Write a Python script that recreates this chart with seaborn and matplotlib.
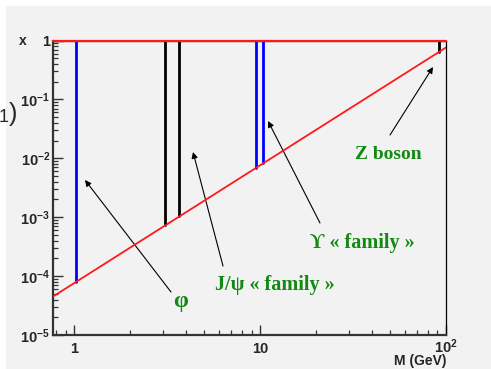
import matplotlib
matplotlib.use("Agg")
import matplotlib.pyplot as plt
from matplotlib.patches import Rectangle
from matplotlib.ticker import FixedLocator, FixedFormatter, LogLocator, NullFormatter
import pandas as pd
import seaborn as sns

# Kinematic limit x = M^2/s (fixed target, 7 TeV beam), at the ends of the mass range
limit_mass = [0.77, 100.0]
limit_x = [4.5e-5, 0.76]
top_x = [1.0, 1.0]

# Resonances: mass in GeV and lowest reachable x
state_names = ["phi", "J/psi", "psi(2S)", "Upsilon(1S)", "Upsilon(3S)", "Z"]
state_mass = [1.019, 3.097, 3.686, 9.46, 10.36, 91.19]
state_xmin = [7.9e-5, 7.3e-4, 1.04e-3, 6.8e-3, 8.2e-3, 0.63]
state_colour = ["#0000ff", "#000000", "#000000", "#0000ff", "#0000ff", "#000000"]

x_ticks = [1, 10, 100]
x_tick_labels = ["1", "10", r"10$^{2}$"]
y_ticks = [1e-5, 1e-4, 1e-3, 1e-2, 1e-1, 1]
y_tick_labels = [r"10$^{-5}$", r"10$^{-4}$", r"10$^{-3}$", r"10$^{-2}$", r"10$^{-1}$", "1"]

sns.set_style("ticks")
plt.rcParams["font.family"] = ["Liberation Sans", "DejaVu Sans"]
plt.rcParams["mathtext.fontset"] = "custom"
plt.rcParams["mathtext.rm"] = "Liberation Sans:bold"
plt.rcParams["mathtext.bf"] = "Liberation Sans:bold"
plt.rcParams["mathtext.it"] = "Liberation Sans:bold"
plt.rcParams["mathtext.default"] = "bf"

W, H = 491, 369
BG = "#f2f2f2"
GREEN = "#128a12"


def px(x, y):
    return (x / W, 1 - y / H)


fig = plt.figure(figsize=(W / 100, H / 100), dpi=100, facecolor="white")
fig.patches.append(Rectangle((6 / W, 0), 1, (H - 6) / H, transform=fig.transFigure,
                             facecolor=BG, edgecolor="none", zorder=-10))

ax = fig.add_axes([53 / W, 34 / H, 393 / W, 294.5 / H])
ax.set_facecolor(BG)

# vertical segments for each resonance
rows = []
for n, m, lo in zip(state_names, state_mass, state_xmin):
    rows.append({"state": n, "mass": m, "x": lo})
    rows.append({"state": n, "mass": m, "x": 1.0})
df = pd.DataFrame(rows)
sns.lineplot(data=df, x="mass", y="x", hue="state", units="state", estimator=None,
             palette=dict(zip(state_names, state_colour)), legend=False, sort=False,
             lw=2.0, ax=ax, zorder=3)

# kinematic boundaries
sns.lineplot(x=limit_mass, y=limit_x, color="#ff1a1a", lw=1.3, ax=ax, zorder=4)
sns.lineplot(x=limit_mass, y=top_x, color="#ff1a1a", lw=1.6, ax=ax, zorder=4, clip_on=False)

ax.set_xscale("log")
ax.set_yscale("log")
ax.set_xlim(0.77, 100)
ax.set_ylim(1e-5, 1)

ax.xaxis.set_major_locator(FixedLocator(x_ticks))
ax.xaxis.set_major_formatter(FixedFormatter(x_tick_labels))
ax.xaxis.set_minor_locator(LogLocator(base=10, subs=range(2, 10)))
ax.xaxis.set_minor_formatter(NullFormatter())
ax.yaxis.set_major_locator(FixedLocator(y_ticks))
ax.yaxis.set_major_formatter(FixedFormatter(y_tick_labels))
ax.yaxis.set_minor_locator(LogLocator(base=10, subs=range(2, 10)))
ax.yaxis.set_minor_formatter(NullFormatter())

ax.tick_params(which="both", direction="in", color="#333333", top=False, right=False)
ax.tick_params(which="major", length=7, width=1.0)
ax.tick_params(which="minor", length=3.8, width=0.9)
ax.tick_params(axis="x", which="major", pad=13, labelsize=10.5)
ax.tick_params(axis="y", which="major", pad=2, labelsize=10.5)
for lbl in ax.get_xticklabels() + ax.get_yticklabels():
    lbl.set_fontweight("bold")
for t in ax.xaxis.get_major_ticks():
    t.label1.set_va("baseline")

for side in ["left", "bottom"]:
    ax.spines[side].set_color("#333333")
    ax.spines[side].set_linewidth(1.6)
ax.spines["right"].set_color("black")
ax.spines["right"].set_linewidth(0.9)
ax.spines["top"].set_color("black")
ax.spines["top"].set_linewidth(0.9)

ax.set_xlabel("M (GeV)", fontsize=10, fontweight="bold", loc="right")
ax.xaxis.set_label_coords(1.0, -0.065)
ax.xaxis.label.set_va("top")
ax.set_ylabel("x", fontsize=10, fontweight="bold", rotation=0)
ax.yaxis.set_label_coords(-0.076, 1.0)
ax.yaxis.label.set_ha("center")
ax.yaxis.label.set_va("center")

# annotations
serif = ["Liberation Serif", "DejaVu Serif"]
arrows = [((171, 292), (85, 180)),
          ((223, 266), (193, 152)),
          ((320, 223), (268, 121)),
          ((390, 135), (433, 67))]
for tail, head in arrows:
    ax.annotate("", xy=px(*head), xytext=px(*tail), xycoords="figure fraction",
                textcoords="figure fraction",
                arrowprops=dict(arrowstyle="-|>", color="black", lw=0.8,
                                mutation_scale=9, shrinkA=0, shrinkB=0))

labels = [("φ", 181, 302, 17), ("J/ψ « family »", 275, 285, 14.5),
          ("ϒ « family »", 362, 243, 14.5), ("Z boson", 388, 155, 14)]
for s, x, y, size in labels:
    fig.text(*px(x, y), s, color=GREEN, fontsize=size, fontweight="bold",
             family=serif, ha="center", va="center")

# fragment of an equation number at the left edge
fig.text(*px(-1, 118), "1", fontsize=13, ha="left", va="center")
fig.text(*px(13, 114), ")", fontsize=18, ha="center", va="center")

fig.savefig("out.png", dpi=100, facecolor="white")
